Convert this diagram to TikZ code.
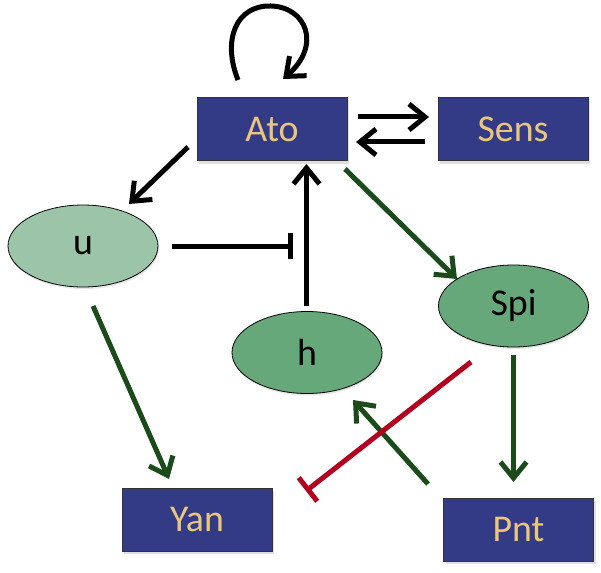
\documentclass[tikz,border=0pt]{standalone}
\usepackage{fontspec}
\setmainfont{Carlito}
\usetikzlibrary{arrows.meta,shadows,shapes.geometric}
\definecolor{navy}{HTML}{343B86}
\definecolor{tan}{HTML}{EBC77E}
\definecolor{lightgreen}{HTML}{9CC4A8}
\definecolor{midgreen}{HTML}{66A87A}
\definecolor{darkgreen}{HTML}{1B4A1B}
\definecolor{inhred}{HTML}{B2001E}
\tikzset{
  genebox/.style={draw=black!80, line width=0.8bp, fill=navy, text=tan, minimum width=150bp, minimum height=63bp,
     inner sep=0pt, font=\fontsize{38}{44}\selectfont, drop shadow={shadow xshift=2bp, shadow yshift=-3bp, opacity=0.25}},
  protell/.style={draw=black, line width=0.8bp, ellipse, minimum width=150bp, minimum height=82bp, inner sep=0pt,
     font=\fontsize{38}{44}\selectfont, drop shadow={shadow xshift=1bp, shadow yshift=-2bp, opacity=0.2}},
  actb/.style={line width=5bp, black, -{Straight Barb[length=16bp,width=26bp]}},
  actg/.style={line width=5bp, darkgreen, -{Straight Barb[length=16bp,width=26bp]}},
  inhb/.style={line width=5bp, black, -{Bar[width=26bp,line width=5bp]}},
  inhr/.style={line width=5bp, inhred, -{Bar[width=30bp,line width=5bp]}},
}
\begin{document}
\begin{tikzpicture}[x=1bp,y=-1bp]
\useasboundingbox (0,0) rectangle (601,573);
\node[genebox] (Ato) at (272,129) {Ato};
\node[genebox] (Sens) at (513,129) {Sens};
\node[genebox] (Yan) at (197,519.5) {Yan};
\node[genebox] (Pnt) at (518.5,529.5) {Pnt};
\node[protell, fill=lightgreen] (u) at (83,246) {u};
\node[protell, fill=midgreen] (h) at (307,352.5) {h};
\node[protell, fill=midgreen] (Spi) at (513.5,306) {Spi};
% endpoints
\coordinate (loopA) at (238,80);
\coordinate (loopB) at (283,79);
\coordinate (as1) at (358,117);
\coordinate (as2) at (429,117);
\coordinate (sa1) at (425,142);
\coordinate (sa2) at (356,142);
\coordinate (au1) at (188,147);
\coordinate (au2) at (129,204);
\coordinate (ui1) at (172,246);
\coordinate (ui2) at (293,246);
\coordinate (ha1) at (306.5,306);
\coordinate (ha2) at (306.5,164);
\coordinate (asp1) at (345,169);
\coordinate (asp2) at (457,279);
\coordinate (uy1) at (93,306);
\coordinate (uy2) at (169,479);
\coordinate (sp1) at (513.5,355);
\coordinate (sp2) at (513.5,482);
\coordinate (ph1) at (428,484);
\coordinate (ph2) at (353,400);
\coordinate (sy1) at (471,362);
\coordinate (sy2) at (306,491);
% connectors
\draw[actb] (loopA) .. controls (222,40) and (236,5) .. (271,6) .. controls (306,7) and (322,45) .. (loopB);
\draw[actb] (as1) -- (as2);
\draw[actb] (sa1) -- (sa2);
\draw[actb] (au1) -- (au2);
\draw[inhb] (ui1) -- (ui2);
\draw[actb] (ha1) -- (ha2);
\draw[actg] (asp1) -- (asp2);
\draw[actg] (uy1) -- (uy2);
\draw[actg] (sp1) -- (sp2);
\draw[actg] (ph1) -- (ph2);
\draw[inhr] (sy1) -- (sy2);
\end{tikzpicture}
\end{document}
